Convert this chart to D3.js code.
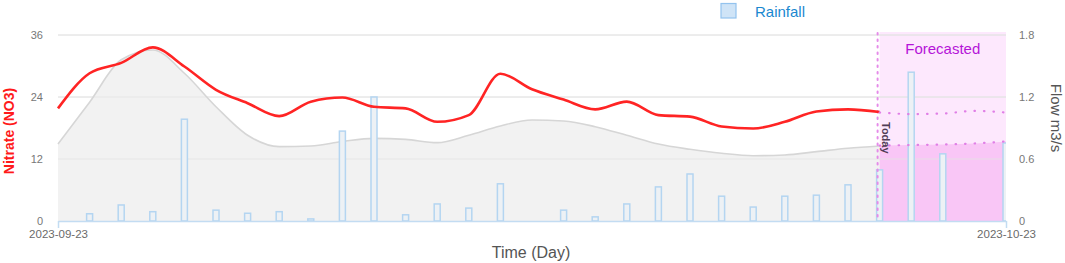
<!DOCTYPE html>
<html>
<head>
<meta charset="utf-8">
<script src="https://cdn.jsdelivr.net/npm/d3@7"></script>
<style>
  body { margin: 0; background: #fff; }
  svg { display: block; font-family: "Liberation Sans", Arial, sans-serif; }
</style>
</head>
<body>
<svg id="chart" width="1065" height="263"></svg>
<script>
// ---------- data ----------
const startDate = "2023-09-23";
const endDate = "2023-10-23";
const todayIndex = 26;                 // day index of "Today"
const nitrateTicks = [0, 12, 24, 36];
const flowTicks = [0, 0.6, 1.2, 1.8];
const flowTickLabels = ["0", "0.6", "1.2", "1.8"];

// observed nitrate (mg/L), day 0 .. 26
const nitrate = [21.8, 28.6, 30.6, 33.6, 29.9, 25.4, 22.8, 20.3, 23.1, 23.9, 22.1, 21.8, 19.2, 20.5,
                 28.5, 25.5, 23.5, 21.6, 23.1, 20.5, 20.2, 18.3, 17.9, 19.2, 21.2, 21.6, 21.1];
// forecast nitrate, day 26 .. 30
const nitrateForecast = [21.0, 20.7, 20.8, 21.3, 21.0];
// observed flow (m3/s), day 0 .. 26
const flow = [0.745, 1.15, 1.56, 1.655, 1.43, 1.106, 0.83, 0.72, 0.726, 0.77, 0.80, 0.79, 0.758, 0.83,
              0.92, 0.978, 0.968, 0.913, 0.83, 0.745, 0.694, 0.655, 0.632, 0.639, 0.671, 0.704, 0.726];
// forecast flow, day 26 .. 30
const flowForecast = [0.73, 0.735, 0.74, 0.75, 0.77];
// rainfall (mm), day 1 .. 30
const rainfall = [1.4, 3.1, 1.8, 19.7, 2.1, 1.5, 1.8, 0.4, 17.4, 24.0, 1.2, 3.3, 2.5, 7.2, 0,
                  2.1, 0.8, 3.3, 6.6, 9.1, 4.8, 2.7, 4.8, 5.0, 7.0, 9.9, 28.8, 13.0, 0, 15.1];

// ---------- setup ----------
const svg = d3.select("#chart");
const parse = d3.timeParse("%Y-%m-%d");
const d0 = parse(startDate), d1 = parse(endDate);
const dayAt = i => d3.timeDay.offset(d0, i);

const L = 58, R = 1006, T = 35, B = 221;
const x = d3.scaleTime().domain([d0, d1]).range([L, R]);
const yN = d3.scaleLinear().domain([0, 36]).range([B, T]);
const yF = d3.scaleLinear().domain([0, 1.8]).range([B, T]);
const yR = d3.scaleLinear().domain([0, 36]).range([B, T]);

svg.append("defs").append("clipPath").attr("id", "plotclip")
  .append("rect").attr("x", L).attr("y", 0).attr("width", R - L).attr("height", B);

// ---------- forecast background ----------
const xToday = x(dayAt(todayIndex));
svg.append("rect")
  .attr("x", xToday).attr("y", 32).attr("width", R - xToday).attr("height", B - 32)
  .attr("fill", "#fde8fd");

// ---------- gridlines ----------
svg.append("g").selectAll("line").data(nitrateTicks.filter(d => d > 0)).join("line")
  .attr("x1", L).attr("x2", R)
  .attr("y1", d => yN(d)).attr("y2", d => yN(d))
  .attr("stroke", "#e6e6e6").attr("stroke-width", 1);

// ---------- flow area ----------
const flowPts = flow.map((v, i) => ({ d: dayAt(i), v }));
const flowFcPts = flowForecast.map((v, i) => ({ d: dayAt(todayIndex + i), v }));
const area = d3.area().x(p => x(p.d)).y0(B).y1(p => yF(p.v)).curve(d3.curveMonotoneX);
const line = d3.line().x(p => x(p.d)).y(p => yF(p.v)).curve(d3.curveMonotoneX);

svg.append("path").datum(flowPts).attr("d", area)
  .attr("fill", "#f2f2f2");
svg.append("path").datum(flowFcPts).attr("d", area)
  .attr("fill", "#f9c6f6");

// gridlines re-drawn faintly over fills
svg.append("g").selectAll("line").data(nitrateTicks.filter(d => d > 0)).join("line")
  .attr("x1", L).attr("x2", R)
  .attr("y1", d => yN(d)).attr("y2", d => yN(d))
  .attr("stroke", "#e3e3e3").attr("stroke-opacity", 0.8).attr("stroke-width", 1);

svg.append("path").datum(flowPts).attr("d", line)
  .attr("fill", "none").attr("stroke", "#d6d6d6").attr("stroke-width", 1.6);

// ---------- rainfall bars ----------
const barW = 6;
svg.append("g").attr("clip-path", "url(#plotclip)")
  .selectAll("rect").data(rainfall.map((v, i) => ({ d: dayAt(i + 1), v })).filter(p => p.v > 0))
  .join("rect")
  .attr("x", p => x(p.d) - barW / 2)
  .attr("y", p => yR(p.v))
  .attr("width", barW)
  .attr("height", p => B - yR(p.v))
  .attr("fill", "#edf1f5")
  .attr("stroke", "#b4d5f1")
  .attr("stroke-width", 1.5);

// ---------- today line ----------
svg.append("line")
  .attr("x1", xToday - 2).attr("x2", xToday - 2).attr("y1", 33).attr("y2", B)
  .attr("stroke", "#e58be9").attr("stroke-width", 2)
  .attr("stroke-dasharray", "1.5,5").attr("stroke-linecap", "round");

// ---------- nitrate line ----------
const nPts = nitrate.map((v, i) => ({ d: dayAt(i), v }));
const nFcPts = nitrateForecast.map((v, i) => ({ d: dayAt(todayIndex + i), v }));
const nLine = d3.line().x(p => x(p.d)).y(p => yN(p.v)).curve(d3.curveMonotoneX);
svg.append("path").datum(nPts).attr("d", nLine)
  .attr("fill", "none").attr("stroke", "#ff2424").attr("stroke-width", 2.6);

// forecast dotted lines
svg.append("path").datum(nFcPts).attr("d", nLine)
  .attr("fill", "none").attr("stroke", "#e07fe6").attr("stroke-width", 2.2)
  .attr("stroke-dasharray", "0.5,9").attr("stroke-linecap", "round");
svg.append("path").datum(flowFcPts).attr("d", line)
  .attr("fill", "none").attr("stroke", "#e07fe6").attr("stroke-width", 2.2)
  .attr("stroke-dasharray", "0.5,9").attr("stroke-linecap", "round");

// ---------- labels in forecast ----------
svg.append("text")
  .attr("x", (xToday + R) / 2).attr("y", 54)
  .attr("text-anchor", "middle")
  .attr("font-size", 15).attr("fill", "#b514d8")
  .text("Forecasted");

svg.append("text")
  .attr("transform", `translate(${xToday + 2},${122}) rotate(90)`)
  .attr("font-size", 11).attr("font-weight", 600).attr("fill", "#4f3c55")
  .text("Today");

// ---------- axes ----------
const leftAxis = d3.axisLeft(yN).tickValues(nitrateTicks).tickSize(0).tickPadding(15);
const gl = svg.append("g").attr("transform", `translate(${L},0)`).call(leftAxis);
gl.select(".domain").remove();
gl.selectAll("text").attr("font-size", 11).attr("fill", "#777").attr("font-family", "Liberation Sans, Arial, sans-serif");

const rightAxis = d3.axisRight(yF).tickValues(flowTicks).tickFormat((d, i) => flowTickLabels[i])
  .tickSize(0).tickPadding(13);
const gr = svg.append("g").attr("transform", `translate(${R},0)`).call(rightAxis);
gr.select(".domain").remove();
gr.selectAll("text").attr("font-size", 11).attr("fill", "#777").attr("font-family", "Liberation Sans, Arial, sans-serif");

const bottomAxis = d3.axisBottom(x).tickValues([d0, d1]).tickFormat(d3.timeFormat("%Y-%m-%d"))
  .tickSize(7).tickSizeOuter(0).tickPadding(2);
const gb = svg.append("g").attr("transform", `translate(0,${B})`).call(bottomAxis);
gb.select(".domain").attr("stroke", "#c3dcf2").attr("stroke-width", 1.5);
gb.selectAll(".tick line").attr("stroke", "#c3dcf2").attr("stroke-width", 1.5);
gb.selectAll("text").attr("font-size", 11.5).attr("fill", "#6a6a6a").attr("font-family", "Liberation Sans, Arial, sans-serif");

// axis titles
svg.append("text")
  .attr("transform", `translate(14,131) rotate(-90)`)
  .attr("text-anchor", "middle")
  .attr("font-size", 14).attr("font-weight", "bold").attr("fill", "#ff1a1a")
  .text("Nitrate (NO3)");

svg.append("text")
  .attr("transform", `translate(1051,118) rotate(90)`)
  .attr("text-anchor", "middle")
  .attr("font-size", 15).attr("fill", "#555")
  .text("Flow m3/s");

svg.append("text")
  .attr("x", 531).attr("y", 258)
  .attr("text-anchor", "middle")
  .attr("font-size", 16).attr("fill", "#555")
  .text("Time (Day)");

// ---------- legend ----------
svg.append("rect")
  .attr("x", 721).attr("y", 3.5).attr("width", 15).attr("height", 14.5)
  .attr("fill", "#cfe4f7").attr("stroke", "#93c3ee").attr("stroke-width", 1.2);
svg.append("text")
  .attr("x", 755).attr("y", 16.5)
  .attr("font-size", 15).attr("fill", "#1a88d0")
  .text("Rainfall");
</script>
</body>
</html>
